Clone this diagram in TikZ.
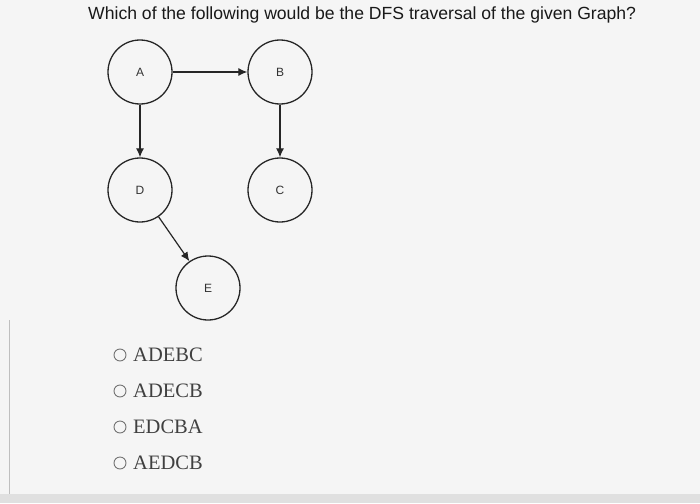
\documentclass[tikz,border=0pt]{standalone}
\usepackage{fontspec}
\setmainfont{Liberation Sans}
\newfontfamily\serifopt{Liberation Serif}
\usetikzlibrary{arrows.meta}
\begin{document}
\begin{tikzpicture}[x=1pt,y=-1pt,
  vert/.style={circle,draw=black!85,line width=1.3pt,minimum size=64pt,inner sep=0pt,font=\fontsize{12}{14}\selectfont,text=black!80},
  edge/.style={draw=black!85,line width=1.2pt,-{Latex[length=9pt,width=8pt]}},
  radio/.style={circle,draw=black!55,line width=0.9pt,minimum size=12pt,inner sep=0pt},
  opt/.style={anchor=west,font=\serifopt\fontsize{20.5}{23}\selectfont,text=black!75,inner sep=0pt}]
\fill[black!4] (0,0) rectangle (700,503);
\useasboundingbox (0,0) rectangle (700,503);
\fill[black!12] (0,494) rectangle (700,503);
\draw[black!25,line width=1pt] (9,320) -- (9,494);
\node[anchor=west,font=\fontsize{17.6}{20}\selectfont,text=black!90,inner sep=0pt] (q) at (88,15) {Which of the following would be the DFS traversal of the given Graph?};
\node[vert] (A) at (140,72) {A};
\node[vert] (B) at (280,72) {B};
\node[vert] (D) at (140,190) {D};
\node[vert] (C) at (280,190) {C};
\node[vert] (E) at (208,288) {E};
\draw[edge] (A) -- (B);
\draw[edge] (A) -- (D);
\draw[edge] (B) -- (C);
\draw[edge] (D) -- (E);
\foreach \t/\y/\n in {ADEBC/355/1,ADECB/391/2,EDCBA/427/3,AEDCB/463/4}{
  \node[radio] (r\n) at (120,\y) {};
  \node[opt] (o\n) at (133,\y) {\t};
}
\end{tikzpicture}
\end{document}
